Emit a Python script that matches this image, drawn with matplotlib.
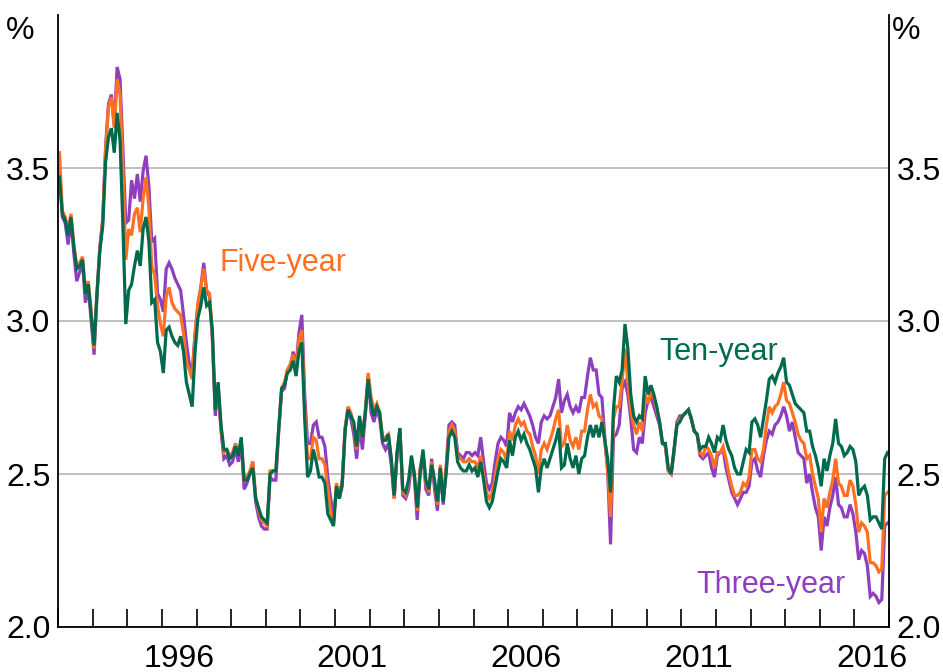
import numpy as np
import matplotlib.pyplot as plt
from matplotlib.ticker import MultipleLocator, FixedLocator, FixedFormatter, NullFormatter

plt.rcParams['font.family'] = ['Liberation Sans', 'DejaVu Sans']

# monthly yields, Jan 1993 - Dec 2016 (%)
start_year = 1993

three_year = [
    3.50, 3.34, 3.32, 3.25, 3.33, 3.22, 3.13, 3.16, 3.19, 3.06, 3.11, 3.00,  # 1993
    2.89, 3.08, 3.24, 3.33, 3.57, 3.71, 3.74, 3.64, 3.83, 3.79, 3.56, 3.32,  # 1994
    3.33, 3.46, 3.40, 3.48, 3.39, 3.49, 3.54, 3.44, 3.26, 3.27, 3.09, 3.07,  # 1995
    3.03, 3.17, 3.19, 3.17, 3.14, 3.12, 3.10, 3.02, 2.93, 2.86, 2.83, 2.96,  # 1996
    3.05, 3.11, 3.19, 3.10, 3.08, 2.94, 2.69, 2.78, 2.64, 2.55, 2.56, 2.53,  # 1997
    2.54, 2.58, 2.54, 2.60, 2.45, 2.47, 2.50, 2.54, 2.41, 2.36, 2.33, 2.32,  # 1998
    2.32, 2.49, 2.48, 2.48, 2.64, 2.77, 2.78, 2.84, 2.85, 2.90, 2.85, 2.96,  # 1999
    3.02, 2.76, 2.60, 2.60, 2.66, 2.67, 2.62, 2.62, 2.59, 2.49, 2.42, 2.36,  # 2000
    2.45, 2.42, 2.46, 2.65, 2.71, 2.68, 2.63, 2.55, 2.66, 2.58, 2.69, 2.82,  # 2001
    2.70, 2.67, 2.71, 2.68, 2.60, 2.58, 2.60, 2.53, 2.42, 2.56, 2.64, 2.43,  # 2002
    2.42, 2.45, 2.53, 2.49, 2.35, 2.51, 2.56, 2.45, 2.43, 2.55, 2.45, 2.38,  # 2003
    2.52, 2.40, 2.52, 2.66, 2.67, 2.66, 2.57, 2.56, 2.55, 2.57, 2.57, 2.56,  # 2004
    2.57, 2.56, 2.62, 2.54, 2.47, 2.45, 2.47, 2.54, 2.60, 2.62, 2.61, 2.59,  # 2005
    2.70, 2.67, 2.70, 2.72, 2.71, 2.73, 2.71, 2.69, 2.66, 2.62, 2.60, 2.67,  # 2006
    2.69, 2.68, 2.69, 2.72, 2.75, 2.81, 2.70, 2.74, 2.76, 2.72, 2.70, 2.72,  # 2007
    2.70, 2.75, 2.75, 2.82, 2.88, 2.84, 2.84, 2.76, 2.75, 2.62, 2.51, 2.27,  # 2008
    2.62, 2.63, 2.66, 2.78, 2.80, 2.76, 2.68, 2.58, 2.57, 2.62, 2.60, 2.70,  # 2009
    2.74, 2.75, 2.72, 2.69, 2.66, 2.60, 2.59, 2.51, 2.50, 2.57, 2.67, 2.69,  # 2010
    2.69, 2.70, 2.71, 2.68, 2.64, 2.63, 2.56, 2.55, 2.56, 2.57, 2.52, 2.49,  # 2011
    2.56, 2.57, 2.58, 2.52, 2.48, 2.44, 2.42, 2.40, 2.42, 2.44, 2.44, 2.46,  # 2012
    2.54, 2.55, 2.51, 2.49, 2.56, 2.61, 2.64, 2.63, 2.66, 2.67, 2.69, 2.72,  # 2013
    2.69, 2.64, 2.67, 2.62, 2.57, 2.56, 2.55, 2.47, 2.50, 2.44, 2.39, 2.36,  # 2014
    2.25, 2.36, 2.33, 2.39, 2.43, 2.49, 2.40, 2.39, 2.36, 2.36, 2.40, 2.37,  # 2015
    2.31, 2.22, 2.25, 2.24, 2.20, 2.10, 2.11, 2.10, 2.08, 2.09, 2.33, 2.34,  # 2016
]

five_year = [
    3.55, 3.36, 3.34, 3.30, 3.35, 3.25, 3.18, 3.19, 3.21, 3.10, 3.13, 3.03,  # 1993
    2.91, 3.09, 3.24, 3.33, 3.56, 3.70, 3.73, 3.63, 3.79, 3.74, 3.50, 3.20,  # 1994
    3.30, 3.28, 3.35, 3.37, 3.29, 3.40, 3.47, 3.37, 3.18, 3.15, 3.05, 2.99,  # 1995
    2.95, 3.08, 3.11, 3.06, 3.04, 3.03, 3.02, 2.96, 2.87, 2.84, 2.81, 2.96,  # 1996
    3.06, 3.11, 3.17, 3.10, 3.09, 2.96, 2.71, 2.79, 2.65, 2.57, 2.58, 2.56,  # 1997
    2.57, 2.60, 2.57, 2.61, 2.48, 2.49, 2.51, 2.54, 2.43, 2.38, 2.35, 2.34,  # 1998
    2.33, 2.51, 2.51, 2.51, 2.65, 2.78, 2.80, 2.84, 2.86, 2.89, 2.84, 2.94,  # 1999
    2.97, 2.72, 2.55, 2.55, 2.62, 2.61, 2.55, 2.55, 2.53, 2.45, 2.38, 2.34,  # 2000
    2.47, 2.43, 2.48, 2.65, 2.72, 2.70, 2.66, 2.58, 2.68, 2.62, 2.71, 2.83,  # 2001
    2.75, 2.71, 2.73, 2.70, 2.62, 2.62, 2.63, 2.55, 2.42, 2.57, 2.65, 2.44,  # 2002
    2.43, 2.47, 2.55, 2.50, 2.38, 2.52, 2.57, 2.47, 2.44, 2.54, 2.47, 2.40,  # 2003
    2.53, 2.42, 2.51, 2.64, 2.66, 2.64, 2.56, 2.55, 2.54, 2.54, 2.55, 2.54,  # 2004
    2.54, 2.52, 2.56, 2.50, 2.44, 2.42, 2.44, 2.49, 2.55, 2.58, 2.57, 2.54,  # 2005
    2.64, 2.61, 2.66, 2.68, 2.66, 2.67, 2.64, 2.63, 2.59, 2.56, 2.50, 2.58,  # 2006
    2.60, 2.58, 2.61, 2.64, 2.68, 2.71, 2.59, 2.60, 2.66, 2.61, 2.59, 2.62,  # 2007
    2.58, 2.64, 2.64, 2.71, 2.76, 2.72, 2.73, 2.69, 2.68, 2.61, 2.51, 2.36,  # 2008
    2.68, 2.72, 2.72, 2.80, 2.91, 2.80, 2.71, 2.66, 2.63, 2.67, 2.64, 2.76,  # 2009
    2.73, 2.77, 2.75, 2.71, 2.67, 2.60, 2.59, 2.51, 2.50, 2.58, 2.66, 2.68,  # 2010
    2.69, 2.70, 2.71, 2.68, 2.64, 2.63, 2.57, 2.56, 2.59, 2.58, 2.56, 2.52,  # 2011
    2.57, 2.57, 2.59, 2.55, 2.50, 2.46, 2.43, 2.43, 2.44, 2.47, 2.46, 2.49,  # 2012
    2.58, 2.58, 2.55, 2.54, 2.58, 2.66, 2.72, 2.70, 2.72, 2.73, 2.76, 2.80,  # 2013
    2.74, 2.73, 2.70, 2.67, 2.63, 2.61, 2.60, 2.55, 2.56, 2.50, 2.46, 2.42,  # 2014
    2.31, 2.42, 2.39, 2.44, 2.48, 2.55, 2.47, 2.46, 2.43, 2.43, 2.48, 2.46,  # 2015
    2.40, 2.31, 2.34, 2.33, 2.31, 2.21, 2.21, 2.20, 2.18, 2.19, 2.43, 2.44,  # 2016
]

ten_year = [
    3.47, 3.35, 3.33, 3.28, 3.34, 3.24, 3.17, 3.18, 3.20, 3.09, 3.12, 3.02,  # 1993
    2.92, 3.09, 3.23, 3.31, 3.52, 3.60, 3.63, 3.55, 3.68, 3.59, 3.31, 2.99,  # 1994
    3.10, 3.12, 3.18, 3.23, 3.18, 3.30, 3.34, 3.26, 3.06, 3.07, 2.93, 2.90,  # 1995
    2.83, 2.97, 2.98, 2.95, 2.93, 2.92, 2.95, 2.90, 2.80, 2.76, 2.72, 2.90,  # 1996
    3.01, 3.05, 3.11, 3.05, 3.06, 2.97, 2.71, 2.80, 2.66, 2.58, 2.58, 2.55,  # 1997
    2.56, 2.59, 2.56, 2.62, 2.48, 2.48, 2.50, 2.52, 2.42, 2.39, 2.36, 2.35,  # 1998
    2.34, 2.50, 2.51, 2.51, 2.65, 2.78, 2.79, 2.83, 2.84, 2.87, 2.82, 2.90,  # 1999
    2.93, 2.68, 2.49, 2.51, 2.58, 2.54, 2.49, 2.49, 2.47, 2.37, 2.35, 2.33,  # 2000
    2.46, 2.42, 2.47, 2.64, 2.71, 2.69, 2.67, 2.59, 2.69, 2.62, 2.70, 2.81,  # 2001
    2.73, 2.69, 2.72, 2.70, 2.61, 2.61, 2.63, 2.55, 2.43, 2.57, 2.65, 2.45,  # 2002
    2.44, 2.48, 2.56, 2.50, 2.39, 2.50, 2.58, 2.48, 2.45, 2.53, 2.48, 2.41,  # 2003
    2.52, 2.41, 2.50, 2.62, 2.64, 2.62, 2.54, 2.52, 2.51, 2.51, 2.53, 2.51,  # 2004
    2.52, 2.49, 2.54, 2.48, 2.41, 2.39, 2.41, 2.46, 2.51, 2.55, 2.54, 2.52,  # 2005
    2.61, 2.56, 2.62, 2.64, 2.61, 2.63, 2.60, 2.58, 2.55, 2.52, 2.44, 2.52,  # 2006
    2.55, 2.52, 2.55, 2.58, 2.61, 2.65, 2.52, 2.53, 2.60, 2.55, 2.52, 2.56,  # 2007
    2.50, 2.55, 2.56, 2.62, 2.66, 2.62, 2.66, 2.62, 2.67, 2.61, 2.55, 2.44,  # 2008
    2.71, 2.82, 2.80, 2.84, 2.99, 2.91, 2.76, 2.69, 2.67, 2.69, 2.68, 2.82,  # 2009
    2.76, 2.79, 2.76, 2.72, 2.67, 2.60, 2.60, 2.52, 2.50, 2.58, 2.66, 2.67,  # 2010
    2.69, 2.70, 2.71, 2.68, 2.64, 2.63, 2.58, 2.59, 2.59, 2.62, 2.60, 2.57,  # 2011
    2.62, 2.61, 2.66, 2.61, 2.58, 2.56, 2.52, 2.50, 2.50, 2.54, 2.58, 2.57,  # 2012
    2.67, 2.68, 2.66, 2.62, 2.68, 2.74, 2.81, 2.82, 2.80, 2.83, 2.85, 2.88,  # 2013
    2.80, 2.79, 2.76, 2.73, 2.72, 2.71, 2.70, 2.64, 2.64, 2.59, 2.56, 2.52,  # 2014
    2.46, 2.55, 2.51, 2.56, 2.60, 2.68, 2.60, 2.59, 2.56, 2.57, 2.59, 2.58,  # 2015
    2.54, 2.43, 2.45, 2.46, 2.43, 2.35, 2.36, 2.36, 2.34, 2.32, 2.55, 2.57,  # 2016
]

year_labels = [1996, 2001, 2006, 2011, 2016]
y_ticks = [2.0, 2.5, 3.0, 3.5]

purple = '#8e3fc0'
orange = '#ff7022'
green = '#006a4e'

# mid-month positions in decimal years
months = start_year + (np.arange(len(ten_year)) + 0.5) / 12

fig = plt.figure(figsize=(9.43, 6.72), dpi=100)
ax = fig.add_axes([58 / 943, 45 / 672, 831 / 943, 612 / 672])

ax.plot(months, three_year, color=purple, lw=2.3, solid_joinstyle='miter')
ax.plot(months, five_year, color=orange, lw=2.3, solid_joinstyle='miter')
ax.plot(months, ten_year, color=green, lw=2.3, solid_joinstyle='miter')

ax.set_xlim(start_year, 2017)
ax.set_ylim(2.0, 4.0)

ax.set_yticks(y_ticks)
ax.yaxis.set_major_formatter(FixedFormatter([f'{v:.1f}' for v in y_ticks]))
ax.grid(axis='y', color='#b4b4b4', lw=1.2)
ax.set_axisbelow(True)
ax.tick_params(axis='y', left=False, right=False, labelleft=True, labelright=True,
               labelsize=23, pad=2)

ax.xaxis.set_major_locator(MultipleLocator(1))
ax.xaxis.set_major_formatter(NullFormatter())
ax.xaxis.set_minor_locator(FixedLocator([y + 0.5 for y in year_labels]))
ax.xaxis.set_minor_formatter(FixedFormatter([str(y) for y in year_labels]))
ax.tick_params(axis='x', which='major', direction='in', length=13, width=1.2, color='black')
ax.tick_params(axis='x', which='minor', length=0, labelsize=23, pad=12)

ax.spines['top'].set_visible(False)
for s in ['left', 'right', 'bottom']:
    ax.spines[s].set_linewidth(1.3)
    ax.spines[s].set_color('black')

ax.text(1999.5, 3.163, 'Five-year', color=orange, fontsize=22, ha='center', va='baseline')
ax.text(2012.07, 2.873, 'Ten-year', color=green, fontsize=22, ha='center', va='baseline')
ax.text(2013.6, 2.111, 'Three-year', color=purple, fontsize=22, ha='center', va='baseline')

fig.text(20 / 943, 1 - 31 / 672, '%', fontsize=23, ha='center', va='center')
fig.text(906 / 943, 1 - 31 / 672, '%', fontsize=23, ha='center', va='center')

fig.savefig('out.png', dpi=100)
